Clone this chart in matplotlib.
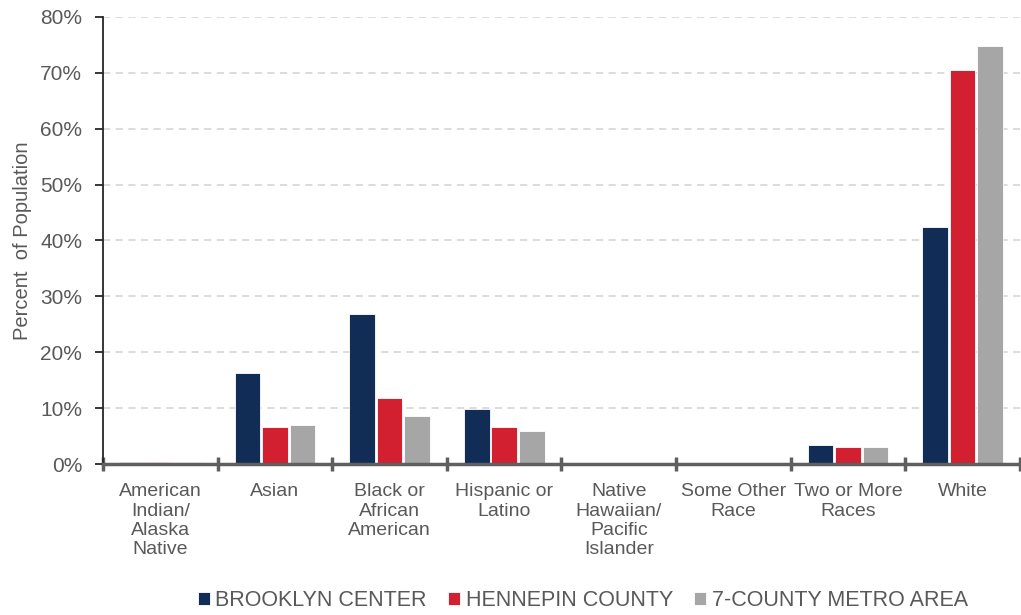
import matplotlib
matplotlib.use("Agg")
import matplotlib.pyplot as plt
import numpy as np
from matplotlib.ticker import FixedLocator, PercentFormatter

plt.rcParams['font.family'] = ['Liberation Sans', 'DejaVu Sans']

categories = ["American\nIndian/\nAlaska\nNative", "Asian", "Black or\nAfrican\nAmerican",
              "Hispanic or\nLatino", "Native\nHawaiian/\nPacific\nIslander", "Some Other\nRace",
              "Two or More\nRaces", "White"]
brooklyn_center = [0.3, 16.3, 26.8, 9.8, 0.1, 0.2, 3.4, 42.4]
hennepin_county = [0.3, 6.6, 11.8, 6.6, 0.1, 0.2, 3.0, 70.5]
metro_area = [0.3, 7.0, 8.6, 5.9, 0.1, 0.2, 3.0, 74.8]
series_names = ["BROOKLYN CENTER", "HENNEPIN COUNTY", "7-COUNTY METRO AREA"]
y_ticks = [0, 10, 20, 30, 40, 50, 60, 70, 80]

colors = ["#112c55", "#d22030", "#a6a6a6"]
text_color = "#595959"

fig = plt.figure(figsize=(10.21, 6.15), dpi=100)
ax = fig.add_axes([0.1009, 0.2455, 0.898, 0.727])

x = np.arange(len(categories))
width = 0.225
offsets = [-0.24, 0.0, 0.24]
for vals, off, col, name in zip([brooklyn_center, hennepin_county, metro_area], offsets, colors, series_names):
    ax.bar(x + off, vals, width, color=col, edgecolor="white", linewidth=0.6, label=name, zorder=3)

ax.set_xlim(-0.5, len(categories) - 0.5)
ax.set_ylim(0, 80)
ax.yaxis.set_major_locator(FixedLocator(y_ticks))
ax.yaxis.set_major_formatter(PercentFormatter(decimals=0))
ax.grid(axis="y", color="#d9d9d9", linestyle=(0, (4, 3)), linewidth=1.3, zorder=0)

for s in ["top", "right"]:
    ax.spines[s].set_visible(False)
ax.spines["left"].set_color("#262626")
ax.spines["left"].set_linewidth(1.3)
ax.spines["bottom"].set_color("#5f5f5f")
ax.spines["bottom"].set_linewidth(2.5)
ax.spines["bottom"].set_zorder(4)

ax.tick_params(axis="y", direction="out", length=6, width=1.3, color="#262626",
               labelsize=15, labelcolor=text_color, pad=9)

# Category labels at group centres; boundary tick marks as minor ticks
ax.set_xticks(x)
ax.set_xticklabels(categories, fontsize=14, color=text_color, linespacing=1.17)
ax.tick_params(axis="x", which="major", length=0, pad=14)
ax.set_xticks(np.arange(-0.5, len(categories) - 0.4, 1.0), minor=True)
ax.tick_params(axis="x", which="minor", direction="inout", length=10, width=2.5, color="#5f5f5f")

ax.set_ylabel("Percent  of Population", fontsize=14.5, color=text_color, labelpad=6)

fig.legend(loc="center", bbox_to_anchor=(0.571, 0.024), ncol=3, frameon=False,
           fontsize=15.5, labelcolor=text_color, handlelength=0.55, handleheight=0.55,
           handletextpad=0.25, columnspacing=1.0, borderpad=0)

fig.savefig("out.png", dpi=100)
